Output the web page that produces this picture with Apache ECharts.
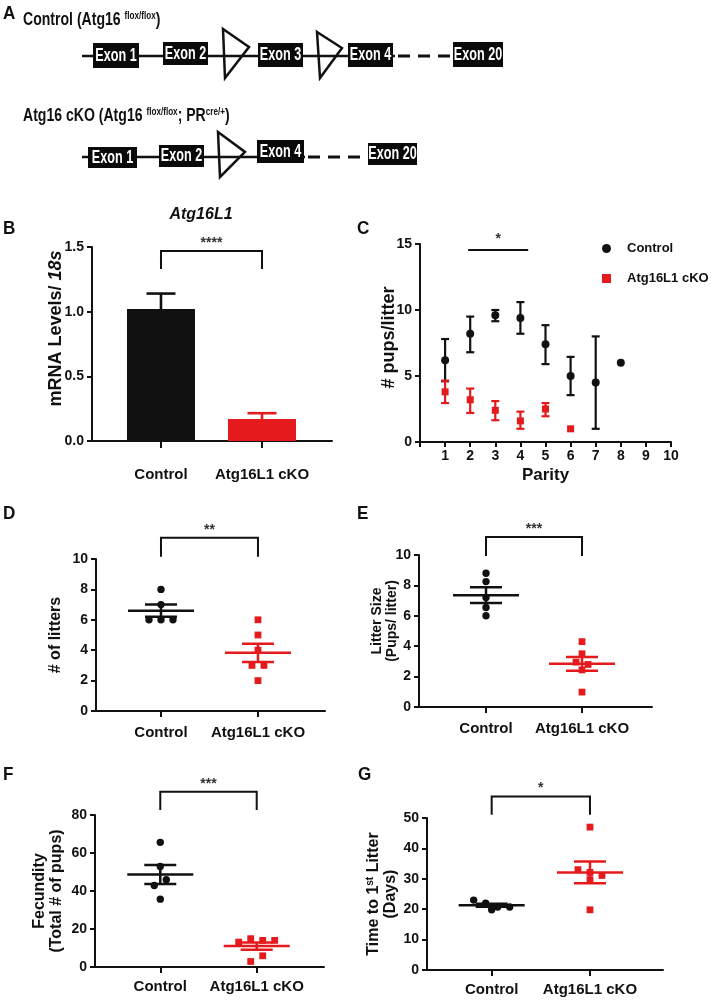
<!DOCTYPE html>
<html><head><meta charset="utf-8">
<script src="https://cdn.jsdelivr.net/npm/echarts@6/dist/echarts.min.js"></script>
<style>html,body{margin:0;padding:0;background:#fff}#c{width:711px;height:1001px}</style>
</head><body><div id="c"></div>
<script>
// ================= DATA =================
const groups = ['Control', 'Atg16L1 cKO'];
// B: Atg16L1 mRNA (mean, SEM)
const mrnaMean = [1.02, 0.17];
const mrnaSem = [0.12, 0.045];
// C: pups per litter by parity
const parityTicks = [1, 2, 3, 4, 5, 6, 7, 8, 9, 10];
const ctrlParity = [1, 2, 3, 4, 5, 6, 7, 8];
const ctrlPups = [6.2, 8.2, 9.6, 9.4, 7.4, 5.0, 4.5, 6.0];
const ctrlPupsLow = [4.6, 6.8, 9.15, 8.2, 5.9, 3.55, 1.0, null];
const ctrlPupsHigh = [7.8, 9.5, 10.0, 10.6, 8.85, 6.45, 8.0, null];
const ckoParity = [1, 2, 3, 4, 5, 6];
const ckoPups = [3.8, 3.2, 2.4, 1.6, 2.5, 1.0];
const ckoPupsLow = [2.95, 2.2, 1.65, 1.0, 1.95, null];
const ckoPupsHigh = [4.65, 4.05, 3.1, 2.3, 2.95, null];
// D: # of litters
const littersCtrl = [8, 7, 6, 6, 6];
const littersCko = [6, 5, 4, 3, 3, 2];
const littersMean = [6.6, 3.83];
const littersSem = [0.4, 0.6];
// E: litter size
const sizeCtrl = [8.8, 8.25, 7.2, 6.55, 6.0];
const sizeCko = [4.3, 3.5, 2.95, 2.8, 2.44, 0.98];
const sizeMean = [7.36, 2.84];
const sizeSem = [0.52, 0.45];
// F: fecundity
const fecCtrl = [65.6, 52.9, 42.9, 45.9, 35.7];
const fecCko = [13.1, 14.9, 14.0, 14.0, 2.9, 5.9];
const fecMean = [48.7, 11.0];
const fecSem = [5.0, 1.9];
// G: time to first litter
const firstCtrl = [23, 19.8, 22, 20.7, 20.7];
const firstCko = [47, 33, 32.1, 31.1, 29.7, 19.8];
const firstMean = [21.3, 32.1];
const firstSem = [0.5, 3.6];
// significance labels
const sigB = '****', sigC = '*', sigD = '**', sigE = '***', sigF = '***', sigG = '*';

// ================= STYLE =================
const FONT = "'Liberation Sans', Arial, Helvetica, sans-serif";
const BLACK = '#111111', RED = '#e41a1c';
const colors = [BLACK, RED];

const chart = echarts.init(document.getElementById('c'), null, {renderer: 'canvas'});

const grids = [
  {left: 92, top: 247, width: 240, height: 194},   // B
  {left: 420, top: 244, width: 251, height: 198},  // C
  {left: 96, top: 559, width: 229, height: 152},   // D
  {left: 419, top: 555, width: 233, height: 152},  // E
  {left: 95, top: 815, width: 229, height: 152},   // F
  {left: 427, top: 818, width: 236, height: 152}   // G
];

const lineSt = {color: BLACK, width: 2};
function catXAxis(gi, min, max, margin, tickLen) {
  return {
    gridIndex: gi, type: 'value', min: min, max: max,
    axisLine: {show: true, onZero: false, lineStyle: lineSt},
    axisTick: {show: true, length: tickLen, lineStyle: lineSt, customValues: [0, 1]},
    axisLabel: {show: true, customValues: [0, 1], margin: margin, color: BLACK, fontFamily: FONT,
      fontWeight: 'bold', fontSize: 15, formatter: v => groups[Math.round(v)]},
    splitLine: {show: false}
  };
}
function valYAxis(gi, max, interval, name, nameGap, nameStyle, fmt) {
  return {
    gridIndex: gi, type: 'value', min: 0, max: max, interval: interval,
    axisLine: {show: true, onZero: false, lineStyle: lineSt},
    axisTick: {show: true, length: 5, lineStyle: lineSt},
    axisLabel: {margin: 8, color: BLACK, fontFamily: FONT, fontWeight: 'bold', fontSize: 14,
      formatter: fmt || (v => String(v))},
    splitLine: {show: false},
    name: name, nameLocation: 'middle', nameRotate: 90, nameGap: nameGap, nameMoveOverlap: false,
    nameTextStyle: Object.assign({color: BLACK, fontFamily: FONT, fontWeight: 'bold', fontSize: 16}, nameStyle || {})
  };
}

const xAxes = [
  catXAxis(0, -0.683, 1.693, 26, 7),
  {
    gridIndex: 1, type: 'value', min: 0, max: 10, interval: 1,
    axisLine: {show: true, onZero: false, lineStyle: lineSt},
    axisTick: {show: true, length: 5, lineStyle: lineSt},
    axisLabel: {margin: 7, color: BLACK, fontFamily: FONT, fontWeight: 'bold', fontSize: 14,
      formatter: v => (parityTicks.indexOf(v) >= 0 ? String(v) : '')},
    splitLine: {show: false},
    name: 'Parity', nameLocation: 'middle', nameGap: 25, nameMoveOverlap: false,
    nameTextStyle: {color: BLACK, fontFamily: FONT, fontWeight: 'bold', fontSize: 17}
  },
  catXAxis(2, -0.670, 1.691, 14, 6),
  catXAxis(3, -0.698, 1.729, 14, 6),
  catXAxis(4, -0.677, 1.698, 12, 6),
  catXAxis(5, -0.658, 1.743, 12, 6)
];

const yAxes = [
  valYAxis(0, 1.5, 0.5, '{n|mRNA Levels/ }{i|18s}', 27,
    {padding: [0, 0, 0, 31], rich: {
      n: {fontFamily: FONT, fontWeight: 'bold', fontSize: 18, color: BLACK},
      i: {fontFamily: FONT, fontWeight: 'bold', fontStyle: 'italic', fontSize: 18, color: BLACK}}},
    v => v.toFixed(1)),
  valYAxis(1, 15, 5, '# pups/litter', 22, {fontSize: 18, padding: [0, 0, 0, 11]}),
  valYAxis(2, 10, 2, '# of litters', 32, {fontSize: 16}),
  valYAxis(3, 10, 2, 'Litter Size\n(Pups/ litter)', 19, {fontSize: 14, lineHeight: 15, padding: [0, 0, 0, 20]}),
  valYAxis(4, 80, 20, 'Fecundity\n(Total # of pups)', 30, {fontSize: 16, lineHeight: 17}),
  valYAxis(5, 50, 10, '{a|Time to 1}{s|st}{a| Litter}\n{a|(Days)}', 28,
    {rich: {
      a: {fontFamily: FONT, fontWeight: 'bold', fontSize: 16, lineHeight: 17, color: BLACK},
      s: {fontFamily: FONT, fontWeight: 'bold', fontSize: 10, verticalAlign: 'top', lineHeight: 17, color: BLACK}}})
];

// ---- helpers: beeswarm-like row layout (pixel space) ----
function swarm(pys, d, thr) {
  const order = pys.map((y, i) => i).sort((a, b) => pys[a] - pys[b]);
  const offs = new Array(pys.length).fill(0);
  let i = 0;
  while (i < order.length) {
    const row = [order[i]];
    let j = i + 1;
    while (j < order.length && pys[order[j]] - pys[order[i]] < thr) { row.push(order[j]); j++; }
    row.sort((a, b) => a - b);
    row.forEach((k, r) => { offs[k] = (r - (row.length - 1) / 2) * d; });
    i = j;
  }
  return offs;
}
function dotSeries(ai, vals, cat) {
  const color = colors[cat];
  return {
    type: 'custom', xAxisIndex: ai, yAxisIndex: ai, z: 3, clip: false,
    data: vals.map((v, i) => [cat, v, i]), encode: {x: 0, y: 1},
    renderItem(params, api) {
      const pys = vals.map(v => api.coord([cat, v])[1]);
      const offs = swarm(pys, 12, 7.5);
      const p = api.coord([cat, api.value(1)]);
      const x = p[0] + offs[params.dataIndex];
      if (cat === 0) return {type: 'circle', shape: {cx: x, cy: p[1], r: 3.7}, style: {fill: color}};
      return {type: 'rect', shape: {x: x - 3.4, y: p[1] - 3.4, width: 6.8, height: 6.8}, style: {fill: color}};
    }
  };
}
function meanSemSeries(ai, means, sems) {
  return {
    type: 'custom', xAxisIndex: ai, yAxisIndex: ai, z: 4, clip: false,
    data: means.map((m, i) => [i, m, sems[i]]), encode: {x: 0, y: 1},
    renderItem(params, api) {
      const i = api.value(0), m = api.value(1), s = api.value(2);
      const c = api.coord([i, m]), hi = api.coord([i, m + s]), lo = api.coord([i, m - s]);
      const st = {stroke: colors[i], lineWidth: 2.5, fill: null};
      return {type: 'group', children: [
        {type: 'line', shape: {x1: c[0] - 33, y1: c[1], x2: c[0] + 33, y2: c[1]}, style: st},
        {type: 'line', shape: {x1: c[0], y1: hi[1], x2: c[0], y2: lo[1]}, style: st},
        {type: 'line', shape: {x1: c[0] - 16, y1: hi[1], x2: c[0] + 16, y2: hi[1]}, style: st},
        {type: 'line', shape: {x1: c[0] - 16, y1: lo[1], x2: c[0] + 16, y2: lo[1]}, style: st}
      ]};
    }
  };
}
function errSeries(ai, xs, lows, highs, color) {
  const data = [];
  xs.forEach((x, i) => { if (lows[i] != null) data.push([x, lows[i], highs[i]]); });
  return {
    type: 'custom', xAxisIndex: ai, yAxisIndex: ai, z: 2, clip: false,
    data: data, encode: {x: 0, y: [1, 2]},
    renderItem(params, api) {
      const lo = api.coord([api.value(0), api.value(1)]), hi = api.coord([api.value(0), api.value(2)]);
      const st = {stroke: color, lineWidth: 2.2, fill: null};
      return {type: 'group', children: [
        {type: 'line', shape: {x1: lo[0], y1: lo[1], x2: hi[0], y2: hi[1]}, style: st},
        {type: 'line', shape: {x1: lo[0] - 4, y1: lo[1], x2: lo[0] + 4, y2: lo[1]}, style: st},
        {type: 'line', shape: {x1: hi[0] - 4, y1: hi[1], x2: hi[0] + 4, y2: hi[1]}, style: st}
      ]};
    }
  };
}
function bracketSeries(ai, x0, x1, yTop, yLeg, label, starGap) {
  return {
    type: 'custom', xAxisIndex: ai, yAxisIndex: ai, z: 5, clip: false, silent: true,
    data: [[x0, yTop, x1, yLeg]], encode: {x: [0, 2], y: [1, 3]},
    renderItem(params, api) {
      const a = api.coord([api.value(0), api.value(1)]), b = api.coord([api.value(2), api.value(1)]);
      const la = api.coord([api.value(0), api.value(3)]), lb = api.coord([api.value(2), api.value(3)]);
      const pts = yLeg == null ? [a, b] : [la, a, b, lb];
      return {type: 'group', children: [
        {type: 'polyline', shape: {points: pts}, style: {stroke: BLACK, lineWidth: 2, fill: null}},
        {type: 'text', style: {text: label, x: (a[0] + b[0]) / 2, y: a[1] - starGap, align: 'center',
          verticalAlign: 'bottom', font: 'bold 14px ' + FONT, fill: '#333'}}
      ]};
    }
  };
}

const series = [
  // B
  {type: 'bar', xAxisIndex: 0, yAxisIndex: 0, barWidth: 68, z: 2,
    data: mrnaMean.map((m, i) => ({value: [i, m], itemStyle: {color: colors[i]}}))},
  {type: 'custom', xAxisIndex: 0, yAxisIndex: 0, z: 1, clip: false,
    data: mrnaMean.map((m, i) => [i, m, mrnaSem[i]]), encode: {x: 0, y: 1},
    renderItem(params, api) {
      const i = api.value(0);
      const b = api.coord([i, api.value(1)]), t = api.coord([i, api.value(1) + api.value(2)]);
      const st = {stroke: colors[i], lineWidth: 2.6, fill: null};
      return {type: 'group', children: [
        {type: 'line', shape: {x1: b[0], y1: b[1], x2: t[0], y2: t[1]}, style: st},
        {type: 'line', shape: {x1: t[0] - 14.5, y1: t[1], x2: t[0] + 14.5, y2: t[1]}, style: st}
      ]};
    }},
  bracketSeries(0, 0, 1, 1.469, 1.33, sigB, 1),
  // C
  errSeries(1, ctrlParity, ctrlPupsLow, ctrlPupsHigh, BLACK),
  errSeries(1, ckoParity, ckoPupsLow, ckoPupsHigh, RED),
  {type: 'scatter', name: 'Control', xAxisIndex: 1, yAxisIndex: 1, symbol: 'circle', symbolSize: 8, z: 3,
    itemStyle: {color: BLACK, opacity: 1}, data: ctrlParity.map((x, i) => [x, ctrlPups[i]])},
  {type: 'scatter', name: 'Atg16L1 cKO', xAxisIndex: 1, yAxisIndex: 1, symbol: 'rect', symbolSize: 7, z: 3,
    itemStyle: {color: RED, opacity: 1}, data: ckoParity.map((x, i) => [x, ckoPups[i]])},
  bracketSeries(1, 1.92, 4.31, 14.55, null, sigC, 4),
  // D
  dotSeries(2, littersCtrl, 0), dotSeries(2, littersCko, 1), meanSemSeries(2, littersMean, littersSem),
  bracketSeries(2, 0, 1, 11.4, 10.15, sigD, 1),
  // E
  dotSeries(3, sizeCtrl, 0), dotSeries(3, sizeCko, 1), meanSemSeries(3, sizeMean, sizeSem),
  bracketSeries(3, 0, 1, 11.18, 9.93, sigE, 1),
  // F
  dotSeries(4, fecCtrl, 0), dotSeries(4, fecCko, 1), meanSemSeries(4, fecMean, fecSem),
  bracketSeries(4, 0, 1, 92.2, 82.6, sigF, 1),
  // G
  dotSeries(5, firstCtrl, 0), dotSeries(5, firstCko, 1), meanSemSeries(5, firstMean, firstSem),
  bracketSeries(5, 0, 1, 57.1, 51.1, sigG, 1)
];

// ---- Panel A schematic + panel letters (graphic) ----
const G = [];
function txt(x, y, text, size, o) {
  o = o || {};
  return {type: 'text', x: x, y: y, scaleX: o.sx || 1, z: 10,
    style: {text: text, font: (o.italic ? 'italic ' : '') + 'bold ' + size + 'px ' + FONT,
      fill: o.fill || BLACK, align: o.align || 'left', verticalAlign: 'middle', rich: o.rich}};
}
// letters
[['A', 3, 14], ['B', 3, 228.5], ['C', 357, 228.5], ['D', 3, 513.5], ['E', 357, 513.5], ['F', 3, 775], ['G', 358, 775]]
  .forEach(l => G.push(txt(l[1], l[2], l[0], 19, {sx: 0.9})));
// B title
G.push(txt(201, 215, 'Atg16L1', 16, {italic: true, align: 'center'}));
// A titles (rich, with superscripts)
const richA = {
  m: {font: 'bold 19px ' + FONT, fill: BLACK},
  s: {font: 'bold 11px ' + FONT, fill: BLACK, verticalAlign: 'top'}
};
G.push(txt(23, 20, '{m|Control (Atg16 }{s|flox/flox}{m|)}', 19, {sx: 0.74, rich: richA}));
G.push(txt(23, 116, '{m|Atg16 cKO (Atg16 }{s|flox/flox}{m|; PR}{s|cre/+}{m|)}', 19, {sx: 0.74, rich: richA}));
// backbone lines
function ln(x1, y1, x2, y2, w, dash) {
  return {type: 'line', z: 8, shape: {x1: x1, y1: y1, x2: x2, y2: y2},
    style: {stroke: BLACK, lineWidth: w, lineDash: dash || null}};
}
G.push(ln(82, 56, 395, 56, 2.5));
G.push(ln(398, 56, 452, 56, 3, [12, 8]));
G.push(ln(82, 157, 305, 157, 2.5));
G.push(ln(308, 157, 366, 157, 3, [12, 8]));
// loxP triangles
function tri(pts) {
  return {type: 'polygon', z: 9, shape: {points: pts}, style: {stroke: BLACK, lineWidth: 2.5, fill: 'rgba(0,0,0,0)'}};
}
G.push(tri([[223, 29], [249, 47], [225, 78]]));
G.push(tri([[317, 32], [342, 48], [320, 78]]));
G.push(tri([[218, 132], [245, 152], [220, 177]]));
// exon boxes
const exons = [
  ['Exon 1', 93, 139, 43, 68], ['Exon 2', 163, 208, 42, 65], ['Exon 3', 258, 303, 43, 67],
  ['Exon 4', 348, 393, 43, 67], ['Exon 20', 453, 503, 42, 67],
  ['Exon 1', 88, 137, 147, 168], ['Exon 2', 159, 204, 145, 167], ['Exon 4', 257, 304, 140, 163],
  ['Exon 20', 368, 417, 143, 165]
];
exons.forEach(e => {
  G.push({type: 'rect', z: 9, shape: {x: e[1], y: e[3], width: e[2] - e[1], height: e[4] - e[3]}, style: {fill: '#0a0a0a'}});
  G.push(Object.assign(txt((e[1] + e[2]) / 2, (e[3] + e[4]) / 2 + 0.5, e[0], 18, {sx: 0.7, align: 'center', fill: '#fff'}), {z: 11}));
});

chart.setOption({
  animation: false,
  backgroundColor: '#ffffff',
  textStyle: {fontFamily: FONT},
  grid: grids,
  xAxis: xAxes,
  yAxis: yAxes,
  legend: {
    data: [{name: 'Control', icon: 'circle'}, {name: 'Atg16L1 cKO', icon: 'rect'}],
    orient: 'vertical', left: 602, top: 242, padding: 0, itemWidth: 9, itemHeight: 9, itemGap: 17,
    selectedMode: false,
    textStyle: {color: BLACK, fontFamily: FONT, fontWeight: 'bold', fontSize: 13, padding: [0, 0, 0, 11]}
  },
  series: series,
  graphic: {elements: G}
});
</script>
</body></html>
